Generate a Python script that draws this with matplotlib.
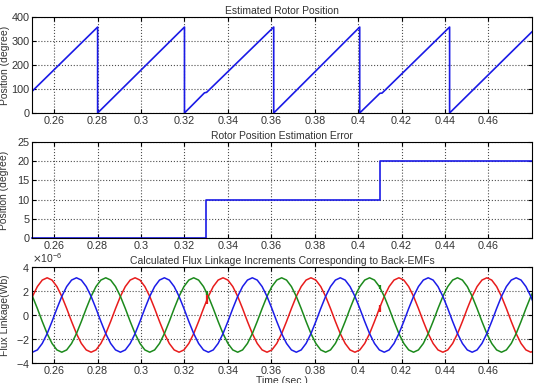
import numpy as np
import matplotlib
matplotlib.use("Agg")
import matplotlib.pyplot as plt
from matplotlib.ticker import FormatStrFormatter, ScalarFormatter

plt.rcParams['font.family'] = ['Liberation Sans', 'DejaVu Sans']

# estimated rotor position (degree), sawtooth corners
pos_t = [0.25, 0.28, 0.28, 0.32, 0.32, 0.3292, 0.3302, 0.3611, 0.3611,
         0.4007, 0.4007, 0.4100, 0.4110, 0.4421, 0.4421, 0.48]
pos_v = [92, 358, 0, 358, 0, 84, 86, 358, 0,
         358, 0, 82, 83, 358, 0, 338]

# rotor position estimation error (degree)
err_t = [0.25, 0.33, 0.33, 0.41, 0.41, 0.48]
err_v = [0, 0, 10, 10, 20, 20]

# flux linkage increments (x 1e-6 Wb), sampled every 2.25 ms from t = 0.25 s
flux_t0 = 0.25
flux_dt = 0.00225
flux_red = [1.55, 2.37, 2.91, 3.10, 2.91, 2.37, 1.55, 0.54, -0.54, -1.55, -2.37, -2.91, -3.10, -2.91, -2.37, -1.55, -0.54, 0.54,
            1.55, 2.37, 2.91, 3.10, 2.91, 2.37, 1.55, 0.54, -0.54, -1.55, -2.37, -2.91, -3.10, -2.91, -2.37, -1.55, -0.54, 0.54,
            1.55, 2.37, 2.91, 3.10, 2.91, 2.37, 1.55, 0.54, -0.54, -1.55, -2.37, -2.91, -3.10, -2.91, -2.37, -1.55, -0.54, 0.54,
            1.55, 2.37, 2.91, 3.10, 2.91, 2.37, 1.55, 0.54, -0.54, -1.55, -2.37, -2.91, -3.10, -2.91, -2.37, -1.55, -0.54, 0.54,
            1.55, 2.37, 2.91, 3.10, 2.91, 2.37, 1.55, 0.54, -0.54, -1.55, -2.37, -2.91, -3.10, -2.91, -2.37, -1.55, -0.54, 0.54,
            1.55, 2.37, 2.91, 3.10, 2.91, 2.37, 1.55, 0.54, -0.54, -1.55, -2.37, -2.91, -3.10, -2.91]
flux_blue = [-3.10, -2.91, -2.37, -1.55, -0.54, 0.54, 1.55, 2.37, 2.91, 3.10, 2.91, 2.37, 1.55, 0.54, -0.54, -1.55, -2.37, -2.91,
             -3.10, -2.91, -2.37, -1.55, -0.54, 0.54, 1.55, 2.37, 2.91, 3.10, 2.91, 2.37, 1.55, 0.54, -0.54, -1.55, -2.37, -2.91,
             -3.10, -2.91, -2.37, -1.55, -0.54, 0.54, 1.55, 2.37, 2.91, 3.10, 2.91, 2.37, 1.55, 0.54, -0.54, -1.55, -2.37, -2.91,
             -3.10, -2.91, -2.37, -1.55, -0.54, 0.54, 1.55, 2.37, 2.91, 3.10, 2.91, 2.37, 1.55, 0.54, -0.54, -1.55, -2.37, -2.91,
             -3.10, -2.91, -2.37, -1.55, -0.54, 0.54, 1.55, 2.37, 2.91, 3.10, 2.91, 2.37, 1.55, 0.54, -0.54, -1.55, -2.37, -2.91,
             -3.10, -2.91, -2.37, -1.55, -0.54, 0.54, 1.55, 2.37, 2.91, 3.10, 2.91, 2.37, 1.55, 0.54]
flux_green = [1.55, 0.54, -0.54, -1.55, -2.37, -2.91, -3.10, -2.91, -2.37, -1.55, -0.54, 0.54, 1.55, 2.37, 2.91, 3.10, 2.91, 2.37,
              1.55, 0.54, -0.54, -1.55, -2.37, -2.91, -3.10, -2.91, -2.37, -1.55, -0.54, 0.54, 1.55, 2.37, 2.91, 3.10, 2.91, 2.37,
              1.55, 0.54, -0.54, -1.55, -2.37, -2.91, -3.10, -2.91, -2.37, -1.55, -0.54, 0.54, 1.55, 2.37, 2.91, 3.10, 2.91, 2.37,
              1.55, 0.54, -0.54, -1.55, -2.37, -2.91, -3.10, -2.91, -2.37, -1.55, -0.54, 0.54, 1.55, 2.37, 2.91, 3.10, 2.91, 2.37,
              1.55, 0.54, -0.54, -1.55, -2.37, -2.91, -3.10, -2.91, -2.37, -1.55, -0.54, 0.54, 1.55, 2.37, 2.91, 3.10, 2.91, 2.37,
              1.55, 0.54, -0.54, -1.55, -2.37, -2.91, -3.10, -2.91, -2.37, -1.55, -0.54, 0.54, 1.55, 2.37]
# small glitches at the error steps
spike_t = [0.3302, 0.4099]
red_spike_lo = [0.94, 0.25]
red_spike_hi = [1.80, 0.80]
green_spike_lo = [1.64, 2.19]
green_spike_hi = [1.97, 2.47]

xticks = [0.26, 0.28, 0.30, 0.32, 0.34, 0.36, 0.38, 0.40, 0.42, 0.44, 0.46]

fig = plt.figure(figsize=(5.37, 3.83), dpi=100)
left, width, height = 0.0605, 0.930, 0.2507
ax1 = fig.add_axes([left, 0.705, width, height])
ax2 = fig.add_axes([left, 0.3786, width, height])
ax3 = fig.add_axes([left, 0.0522, width, height])

tc = '0.2'
fs = 7.8
for ax in (ax1, ax2, ax3):
    ax.set_xlim(0.25, 0.48)
    ax.set_xticks(xticks)
    ax.xaxis.set_major_formatter(FormatStrFormatter('%g'))
    ax.grid(True, linestyle=':', color='0.3', linewidth=0.8)
    ax.tick_params(direction='in', length=3, labelsize=fs, labelcolor=tc,
                   top=True, right=True, pad=2)
    for s in ax.spines.values():
        s.set_linewidth(0.8)

lc = '#1a1ae6'
ax1.plot(pos_t, pos_v, color=lc, lw=1.2)
ax1.set_ylim(0, 400)
ax1.set_yticks([0, 100, 200, 300, 400])
ax1.set_title('Estimated Rotor Position', fontsize=7.5, color=tc, pad=2)
ax1.set_ylabel('Position (degree)', fontsize=7.5, color=tc, labelpad=1)

ax2.plot(err_t, err_v, color=lc, lw=1.2, clip_on=False)
ax2.set_ylim(0, 25)
ax2.set_yticks([0, 5, 10, 15, 20, 25])
ax2.set_title('Rotor Position Estimation Error', fontsize=7.5, color=tc, pad=2)
ax2.set_ylabel('Position (degree)', fontsize=7.5, color=tc, labelpad=6)

ft = flux_t0 + flux_dt * np.arange(len(flux_red))
scale = 1e-6
ax3.plot(ft, np.array(flux_red) * scale, color='#e81c1c', lw=1.1)
ax3.plot(ft, np.array(flux_green) * scale, color='#1c8a1c', lw=1.1)
ax3.plot(ft, np.array(flux_blue) * scale, color='#1c1ce8', lw=1.1)
ax3.vlines(spike_t, np.array(red_spike_lo) * scale, np.array(red_spike_hi) * scale,
           color='#e81c1c', lw=1.6)
ax3.vlines(spike_t, np.array(green_spike_lo) * scale, np.array(green_spike_hi) * scale,
           color='#1c8a1c', lw=1.6)
ax3.set_ylim(-4e-6, 4e-6)
ax3.set_yticks(np.array([-4, -2, 0, 2, 4]) * scale)
fmt = ScalarFormatter(useMathText=True)
fmt.set_powerlimits((0, 0))
ax3.yaxis.set_major_formatter(fmt)
ax3.yaxis.get_offset_text().set_fontsize(7.5)
ax3.yaxis.get_offset_text().set_color(tc)
ax3.set_title('Calculated Flux Linkage Increments Corresponding to Back-EMFs',
              fontsize=7.5, color=tc, pad=2)
ax3.set_ylabel('Flux Linkage(Wb)', fontsize=7.5, color=tc, labelpad=4)
ax3.set_xlabel('Time (sec.)', fontsize=7.5, color=tc, labelpad=0)

fig.savefig('out.png', dpi=100)
